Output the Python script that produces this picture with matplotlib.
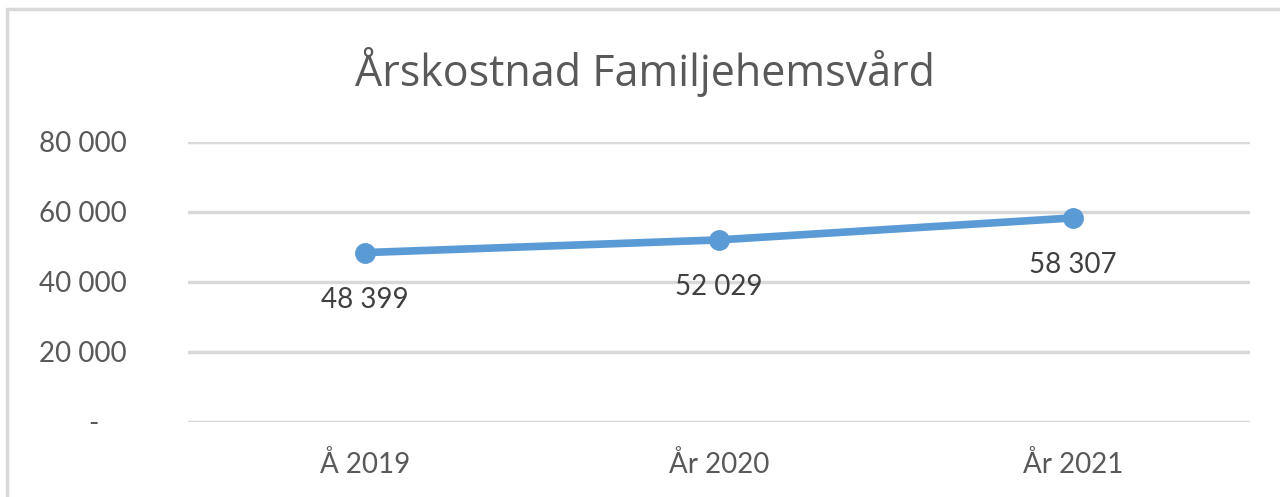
import matplotlib
matplotlib.use('Agg')
from matplotlib import pyplot as plt
from matplotlib.ticker import FuncFormatter
from matplotlib.patches import Rectangle

#%% Data
years = ['Å 2019', 'År 2020', 'År 2021']
cost = [48399, 52029, 58307]
yticks = [0, 20000, 40000, 60000, 80000]

#%% Style
blue = '#5B9BD5'
grid_col = '#D9D9D9'
txt_col = '#595959'
lab_col = '#404040'
plt.rcParams['font.family'] = ['Lato', 'DejaVu Sans']


def fmt(v, pos):
    if v == 0:
        return '-\u2002\u2002'
    return '{:,.0f}'.format(v).replace(',', ' ')


fig = plt.figure(figsize=(12.8, 4.97), dpi=100)
W, H = 1280, 497

# chart frame (runs off the right and bottom of the crop)
fig.patches.append(Rectangle((7 / W, -0.05), 1.1, (H - 9) / H + 0.05,
                             transform=fig.transFigure, fill=False,
                             edgecolor=grid_col, lw=2.5))

ax = fig.add_axes([188 / W, 75 / H, (1250 - 188) / W, 280 / H])
x = range(len(years))
ax.plot(x, cost, color=blue, lw=5.5, marker='o', ms=14, solid_capstyle='round', zorder=3)
for i, v in enumerate(cost):
    ax.annotate(fmt(v, None), (i, v), xytext=(0, -34), textcoords='offset points',
                ha='center', va='center', fontsize=20, color=lab_col)

ax.set_xlim(-0.5, len(years) - 0.5)
ax.set_ylim(0, 80000)
ax.set_yticks(yticks)
ax.yaxis.set_major_formatter(FuncFormatter(fmt))
ax.set_xticks(list(x))
ax.set_xticklabels(years)
ax.tick_params(axis='both', length=0, labelsize=20, labelcolor=txt_col)
ax.tick_params(axis='y', pad=44)
ax.tick_params(axis='x', pad=21)
ax.grid(axis='y', color=grid_col, lw=2.5)
ax.set_axisbelow(True)
for s in ax.spines.values():
    s.set_visible(False)

fig.text(645 / W, 1 - 72 / H, 'Årskostnad Familjehemsvård', ha='center', va='center',
         fontsize=31, color=txt_col, family=['Open Sans', 'DejaVu Sans'])

fig.savefig('out.png', dpi=100)
